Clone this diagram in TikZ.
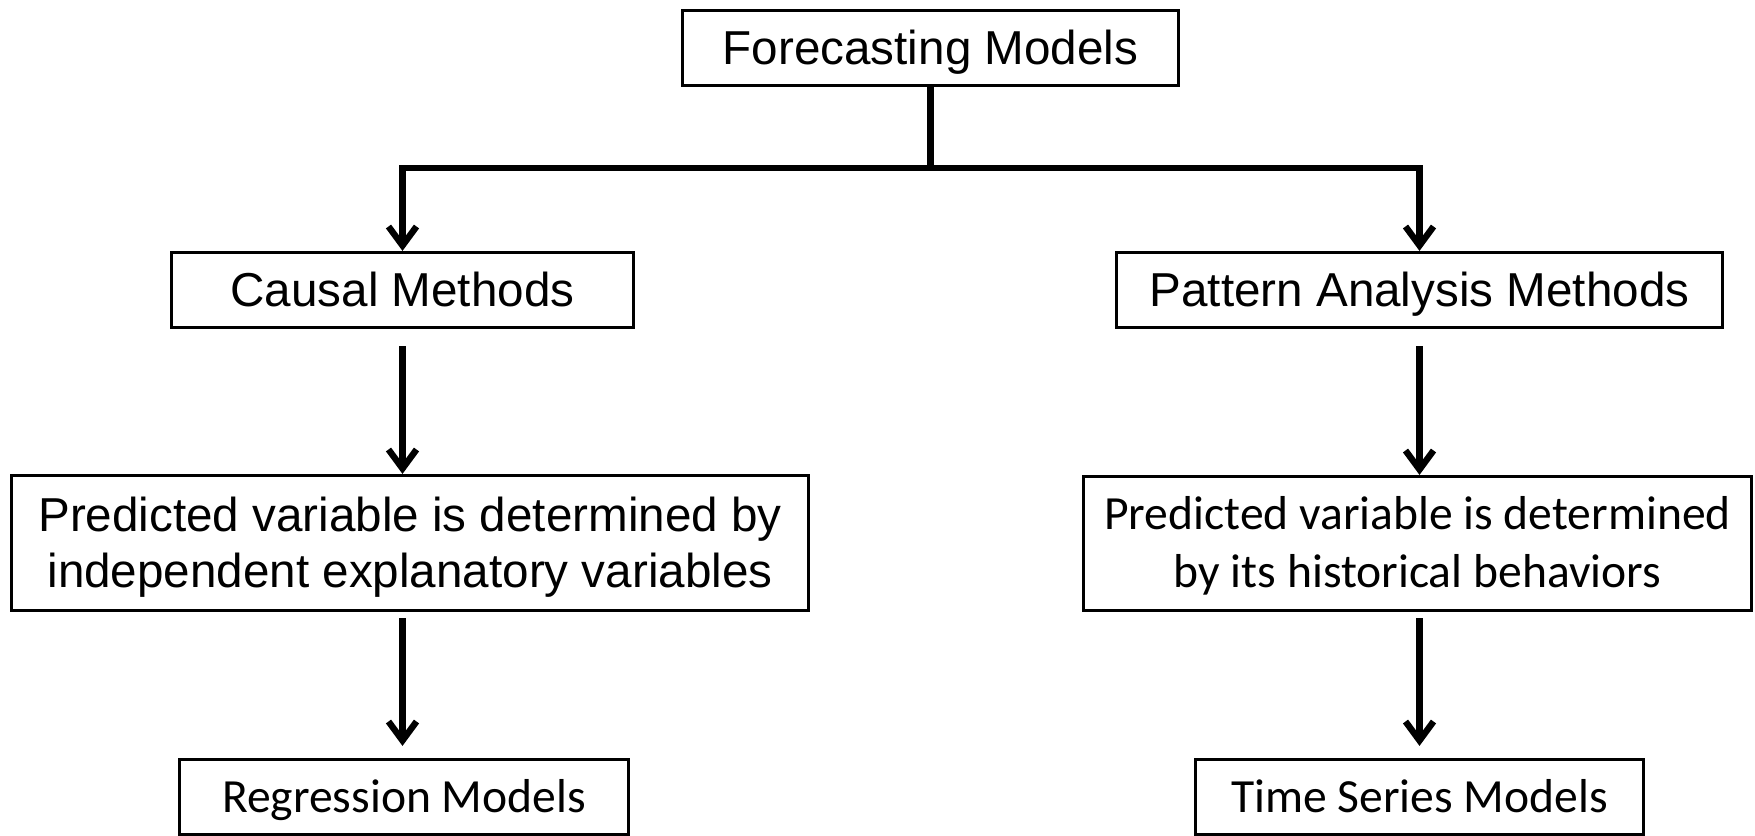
\documentclass[tikz,border=0pt]{standalone}
\usepackage{fontspec}
\setmainfont{Liberation Sans}
\newfontfamily\calibrilike{Carlito}
\usetikzlibrary{arrows.meta,calc}

\begin{document}
\begin{tikzpicture}[x=0.5pt,y=-0.5pt,
  box/.style={draw=black, line width=1.6pt, fill=white, inner sep=0pt},
  arial/.style={font=\fontsize{23.8}{28}\selectfont, text height=16.8pt, text depth=0pt},
  arial2/.style={font=\fontsize{23.8}{28}\selectfont, align=center, text height=44.8pt, text depth=0pt},
  cali/.style={font=\calibrilike\fontsize{23.8}{29}\selectfont, text height=15.2pt, text depth=0pt},
  cali2/.style={font=\calibrilike\fontsize{23.8}{29}\selectfont, align=center, text height=44.2pt, text depth=0pt},
  conn/.style={line width=3.2pt},
  arr/.style={conn, -{Straight Barb[length=9.5pt,width=14pt]}},
]
\useasboundingbox (0,0) rectangle (1755,835);

% boxes
\node[box, arial, minimum width=248pt, minimum height=37.5pt] (top) at (930.5,48) {Forecasting Models};
\node[box, arial, minimum width=231pt, minimum height=37.5pt] (causal) at (402.5,290) {Causal Methods};
\node[box, arial, minimum width=303pt, minimum height=37.5pt] (pattern) at (1419.5,290) {Pattern Analysis Methods};
\node[box, arial2, minimum width=398.5pt, minimum height=67.5pt] (predL) at (410,543)
  {Predicted variable is determined by\\independent explanatory variables};
\node[box, cali2, minimum width=334pt, minimum height=67pt] (predR) at (1417.5,543.5)
  {Predicted variable is determined\\by its historical behaviors};
\node[box, cali, minimum width=224.5pt, minimum height=37.5pt] (regr) at (404,797) {Regression Models};
\node[box, cali, minimum width=224pt, minimum height=37.5pt] (tseries) at (1419.5,797) {Time Series Models};

% branching connector from the root
\coordinate (split) at (930.5,168);
\coordinate (jl) at (402.5,168);
\coordinate (jr) at (1419.5,168);
\draw[conn] (top.south) -- (split);
\draw[arr] (split) -- (jl) -- (causal.north);
\draw[arr] (split) -- (jr) -- (pattern.north);

% downward arrows in each column
\draw[arr] ($(causal.south)+(0,17)$) -- (causal.south |- predL.north);
\draw[arr] ($(pattern.south)+(0,17)$) -- (pattern.south |- predR.north);
\draw[arr] ($(predL.south -| causal.south)+(0,6)$) -- ($(causal.south |- regr.north)+(0,-12)$);
\draw[arr] ($(predR.south -| pattern.south)+(0,6)$) -- ($(pattern.south |- tseries.north)+(0,-12)$);
\end{tikzpicture}
\end{document}
